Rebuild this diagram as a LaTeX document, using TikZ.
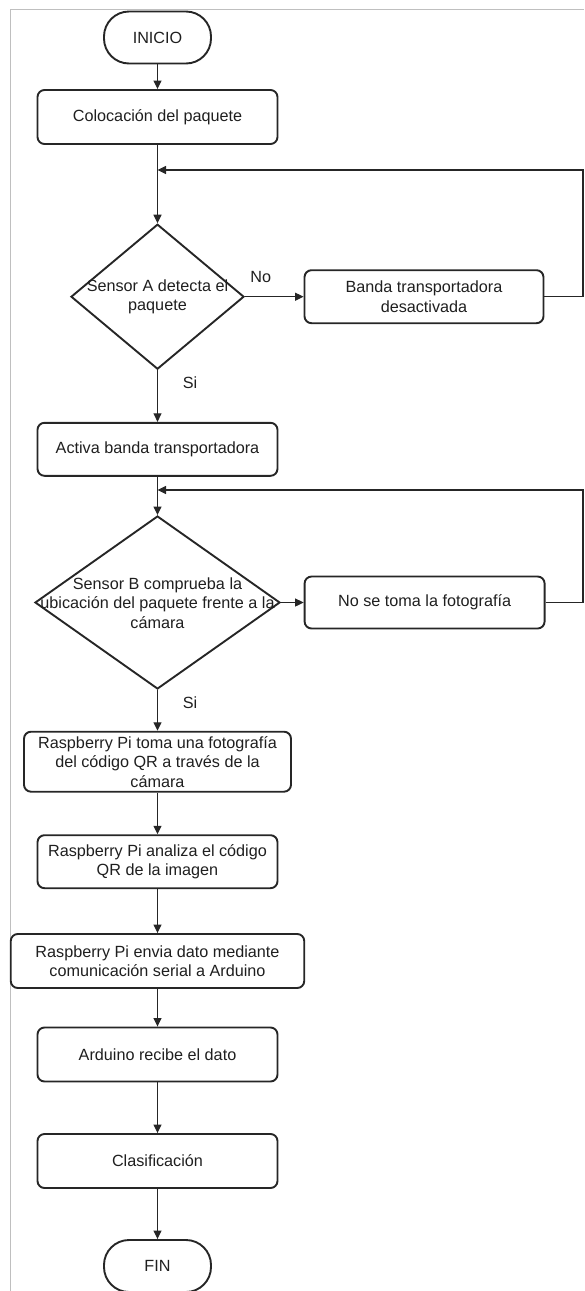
\documentclass[tikz,border=0pt]{standalone}
\usepackage{fontspec}
\setmainfont{Liberation Sans}
\usetikzlibrary{shapes.geometric,arrows.meta}
\begin{document}
\begin{tikzpicture}[x=1pt,y=-1pt,
  every node/.style={font=\fontsize{16.2}{19.5}\selectfont, text=black!88},
  box/.style={draw=black!85, line width=1.9pt, rounded corners=7pt, minimum width=#1, minimum height=54pt, inner sep=0pt, align=center},
  term/.style={draw=black!85, line width=1.9pt, rounded corners=25pt, minimum width=107pt, minimum height=52pt, inner sep=0pt},
  dia/.style={draw=black!85, line width=1.9pt, shape=diamond, inner sep=0pt},
  txt/.style={align=center, inner sep=0pt},
  lbl/.style={inner sep=0pt},
  flow/.style={draw=black!85, line width=1.1pt, -{Triangle[length=8.5pt,width=8pt]}}
]
\useasboundingbox (0,0) rectangle (584,1291);
\clip (0,0) rectangle (584,1291);
% frame
\draw[black!25, line width=1pt] (10.4,1291) -- (10.4,9.3) -- (584,9.3);

\node[term] (inicio) at (157.5,37.5) {INICIO};
\node[box=240pt] (coloc) at (157.5,117) {Colocación del paquete};
\node[dia, minimum width=173pt, minimum height=145pt] (da) at (157.5,296.7) {};
\node[txt] (dat) at (157.5,296.7) {Sensor A detecta el\\paquete};
\node[box=239pt, minimum height=53pt] (banda) at (424,296.7) {Banda transportadora\\desactivada};
\node[box=240pt, minimum height=53pt] (activa) at (157.5,449.3) {Activa banda transportadora};
\node[dia, minimum width=245pt, minimum height=173pt] (db) at (157.5,602.5) {};
\node[txt] (dbt) at (157.5,603) {Sensor B comprueba la\\ubicación del paquete frente a la\\cámara};
\node[box=240pt, minimum height=52pt] (notoma) at (424.6,602.5) {No se toma la fotografía};
\node[box=267pt, minimum height=60pt] (r1) at (157.5,761.7) {Raspberry Pi toma una fotografía\\del código QR a través de la\\cámara};
\node[box=240pt, minimum height=53pt] (r2) at (157.5,861.7) {Raspberry Pi analiza el código\\QR de la imagen};
\node[box=293.5pt] (r3) at (157.5,961) {Raspberry Pi envia dato mediante\\comunicación serial a Arduino};
\node[box=240pt] (ard) at (157.5,1054.5) {Arduino recibe el dato};
\node[box=240pt] (clas) at (157.5,1161) {Clasificación};
\node[term] (fin) at (157.5,1266) {FIN};

\node[lbl] (no) at (260.7,277) {No};
\node[lbl] (si1) at (190,382.7) {Si};
\node[lbl] (si2) at (190,702.7) {Si};

\coordinate (j1) at (157.5,170);
\coordinate (c1) at (583,170);
\coordinate (j2) at (157.5,490);
\coordinate (c2) at (583,490);

\draw[flow] (inicio) -- (coloc);
\draw[flow] (coloc) -- (da);
\draw[flow] (da.east) -- (banda.west);
\draw[flow] (da.south) -- (activa.north);
\draw[flow] (banda.east) -| (c1) -- (j1);
\draw[flow] (activa) -- (db);
\draw[flow] (db.east) -- (notoma.west);
\draw[flow] (notoma.east) -| (c2) -- (j2);
\draw[flow] (db.south) -- (r1.north);
\draw[flow] (r1) -- (r2);
\draw[flow] (r2) -- (r3);
\draw[flow] (r3) -- (ard);
\draw[flow] (ard) -- (clas);
\draw[flow] (clas) -- (fin);
\end{tikzpicture}
\end{document}
